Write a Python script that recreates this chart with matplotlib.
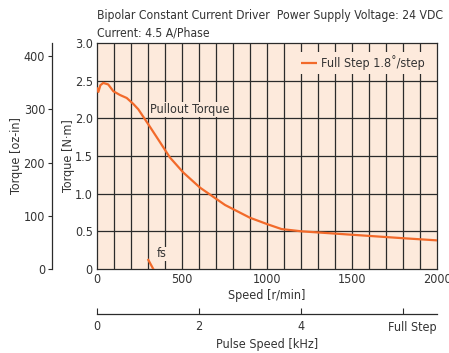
import matplotlib
matplotlib.use("Agg")
import matplotlib.pyplot as plt
from matplotlib import font_manager

# Pullout torque characteristic (speed in r/min, torque in N·m)
speed_rpm = [0, 8, 20, 37, 66, 96, 135, 175, 214, 243, 302, 360, 429, 508,
             606, 753, 900, 1008, 1086, 1204, 1400, 1596, 1792, 2000]
torque_nm = [2.41, 2.35, 2.44, 2.47, 2.45, 2.36, 2.31, 2.27, 2.19, 2.12, 1.92,
             1.72, 1.48, 1.28, 1.08, 0.85, 0.68, 0.59, 0.53, 0.50, 0.47, 0.44,
             0.41, 0.38]

# Maximum starting frequency marker
fs_rpm = [302, 331]
fs_nm = [0.12, 0.0]

x_ticks = [0, 500, 1000, 1500, 2000]
y_ticks = [0, 0.5, 1.0, 1.5, 2.0, 2.5, 3.0]
y_tick_labels = ["0", "0.5", "1.0", "1.5", "2.0", "2.5", "3.0"]
oz_ticks = [0, 100, 200, 300, 400]
khz_ticks = [0, 2, 4, 6]
khz_tick_labels = ["0", "2", "4", ""]

NM_TO_OZIN = 141.612
STEPS_PER_REV = 200

# Pick a narrow sans face if one is installed
entries = font_manager.fontManager.ttflist
stretch_rank = {"condensed": 0, "semi-condensed": 1, "extra-condensed": 2}
best = None
for f in entries:
    if f.style != "normal":
        continue
    w = f.weight if isinstance(f.weight, int) else 400
    if w != 400:
        continue
    narrow = ("Narrow" in f.name or "Condensed" in f.name)
    rank = stretch_rank.get(f.stretch, 0 if narrow else None)
    if rank is None:
        continue
    if best is None or rank < best[0]:
        best = (rank, f.name, f.stretch)

if best is not None:
    plt.rcParams["font.family"] = [best[1], "DejaVu Sans"]
    plt.rcParams["font.stretch"] = best[2]
else:
    plt.rcParams["font.family"] = ["Roboto", "DejaVu Sans"]
plt.rcParams["font.size"] = 9

TXT = "#333333"
BG = "#fdeadc"
ORANGE = "#f26a2a"
GRID = "#2b2b2b"

W, H = 449, 353
fig = plt.figure(figsize=(W / 100, H / 100), dpi=100)

def box(x0, y_top, x1, y_bottom):
    return [x0 / W, 1 - y_bottom / H, (x1 - x0) / W, (y_bottom - y_top) / H]

ax = fig.add_axes(box(97, 43, 437, 269))
ax.set_facecolor(BG)
ax.set_xlim(0, 2000)
ax.set_ylim(0, 3.0)
for v in range(100, 2000, 100):
    ax.axvline(v, color=GRID, lw=0.9, zorder=1)
for v in y_ticks[1:-1]:
    ax.axhline(v, color=GRID, lw=0.9, zorder=1)
for s in ax.spines.values():
    s.set_color(GRID)
    s.set_linewidth(0.9)

ax.plot(speed_rpm, torque_nm, color=ORANGE, lw=1.6, zorder=3,
        label="Full Step 1.8˚/step", solid_capstyle="butt")
ax.plot(fs_rpm, fs_nm, color=ORANGE, lw=1.6, zorder=3, clip_on=True)

ax.set_xticks(x_ticks)
ax.set_xticklabels([str(t) for t in x_ticks], color=TXT)
ax.set_yticks(y_ticks)
ax.set_yticklabels(y_tick_labels, color=TXT)
ax.tick_params(length=0, pad=3)
ax.set_xlabel("Speed [r/min]", color=TXT, labelpad=2)
ax.set_ylabel("Torque [N·m]", color=TXT, labelpad=0)

ax.text(312, 2.12, "Pullout Torque", color=TXT, va="center", ha="left",
        zorder=4, bbox=dict(facecolor=BG, edgecolor="none", pad=0.5))
ax.text(350, 0.2, "fs", color=TXT, va="center", ha="left", zorder=4,
        bbox=dict(facecolor=BG, edgecolor="none", pad=0.5))

leg = ax.legend(loc="upper right", frameon=True, fancybox=False,
                handlelength=1.3, handletextpad=0.3, borderpad=0.3,
                borderaxespad=0.7)
leg.get_frame().set_facecolor(BG)
leg.get_frame().set_edgecolor("none")
leg.get_frame().set_alpha(1)
for t in leg.get_texts():
    t.set_color(TXT)

# Secondary torque scale in oz-in
ax_oz = fig.add_axes(box(52, 43, 53, 269))
ax_oz.set_ylim(0, 3.0 * NM_TO_OZIN)
ax_oz.set_xticks([])
for k in ("top", "right", "bottom"):
    ax_oz.spines[k].set_visible(False)
ax_oz.spines["left"].set_color(GRID)
ax_oz.spines["left"].set_linewidth(0.9)
ax_oz.patch.set_visible(False)
ax_oz.set_yticks(oz_ticks)
ax_oz.set_yticklabels([str(t) for t in oz_ticks], color=TXT)
ax_oz.tick_params(axis="y", length=3, width=0.8, color=GRID, pad=2)
ax_oz.set_ylabel("Torque [oz-in]", color=TXT, labelpad=0.5)

# Pulse speed scale in kHz (full step)
ax_k = fig.add_axes(box(97, 313, 437, 313.5))
khz_max = 2000 / 60 * STEPS_PER_REV / 1000
ax_k.set_xlim(0, khz_max)
ax_k.set_yticks([])
for k in ("top", "right", "left"):
    ax_k.spines[k].set_visible(False)
ax_k.spines["bottom"].set_color(GRID)
ax_k.spines["bottom"].set_linewidth(0.9)
ax_k.patch.set_visible(False)
ax_k.set_xticks(khz_ticks)
ax_k.set_xticklabels(khz_tick_labels, color=TXT)
ax_k.tick_params(axis="x", direction="in", length=4, width=0.8, color=GRID, pad=5)
ax_k.set_xlabel("Pulse Speed [kHz]", color=TXT, labelpad=3)
fig.text(437 / W, 1 - 327 / H, "Full Step", ha="right", va="center", color=TXT)

title1 = fig.text(97 / W, 1 - 16 / H,
                  "Bipolar Constant Current Driver  Power Supply Voltage: 24 VDC",
                  ha="left", va="center", color=TXT)
title2 = fig.text(97 / W, 1 - 33 / H, "Current: 4.5 A/Phase",
                  ha="left", va="center", color=TXT)

# Keep the header line inside the canvas
renderer = fig.canvas.get_renderer()
size = 9.0
while title1.get_window_extent(renderer).x1 > W - 2 and size > 6:
    size -= 0.25
    title1.set_fontsize(size)
    title2.set_fontsize(size)

fig.savefig("out.png", dpi=100, facecolor="white")
